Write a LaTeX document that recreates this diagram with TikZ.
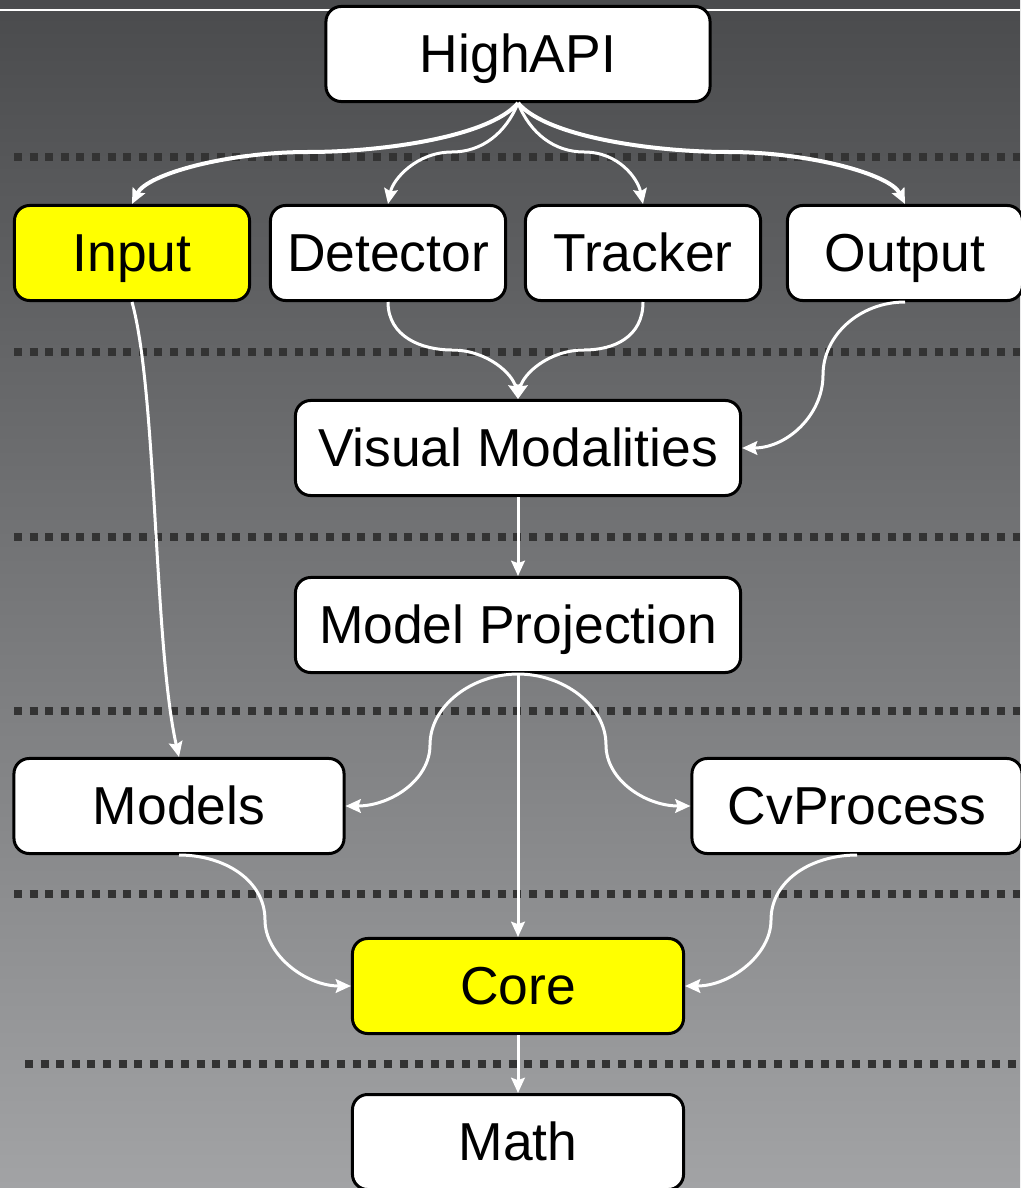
\documentclass[tikz,border=0pt]{standalone}
\usepackage{fontspec}
\setmainfont{Liberation Sans}
\definecolor{bgtop}{RGB}{74,75,77}
\definecolor{bgbottom}{RGB}{162,163,165}
\definecolor{mark}{RGB}{255,255,0}
\definecolor{sep}{RGB}{51,51,51}
\usetikzlibrary{
	arrows.meta,
	positioning
}
\tikzset{
  % arrow
	cstflow/.style    ={-{Stealth[length=.38cm,width=.34cm,inset=.06cm]}, white, line width=.075cm},
	cstflowb/.style   ={cstflow, line width=.1cm},
  % line
	cstsep/.style     ={sep, line width=.2cm, dash pattern=on .2cm off .19cm}, %分隔虚线
  % node
	cstbox/.style     ={fill=white,draw=black,text=black,rounded corners=.38cm,line width=.075cm,
	                    inner sep=0pt,minimum height=2.375cm,text height=27pt,text depth=0pt,
	                    font=\fontsize{38}{45}\selectfont},
	cstbox1/.style    ={cstbox,fill=mark}
}

\begin{document}
\begin{tikzpicture}[x=.025cm,y=-.025cm]
	\useasboundingbox (0,0) rectangle (1020,1188);
	\shade[top color=bgtop,bottom color=bgbottom] (0,0) rectangle (1020,1188);
	\draw[white,line width=.065cm] (0,10)--(1020,10);
	\foreach \x/\y in {14/157,14/352,14/537,14/711,14/894,25/1064}
		\draw[cstsep] (\x,\y)--(1020,\y);
	% nodes
	\node[cstbox,minimum width=9.6cm] (hapi) at (518,54) {HighAPI};
	\node[cstbox1,minimum width=5.875cm] (input) at (132,253) {Input};
	\node[cstbox,minimum width=5.875cm] (det) at (388,253) {Detector};
	\node[cstbox,minimum width=5.875cm] (trk) at (643,253) {Tracker};
	\node[cstbox,minimum width=5.875cm] (out) at (905,253) {Output};
	\node[cstbox,minimum width=11.125cm] (vm) at (518,448) {Visual Modalities};
	\node[cstbox,minimum width=11.125cm] (mp) at (518,625) {Model Projection};
	\node[cstbox,minimum width=8.25cm] (mod) at (179,806) {Models};
	\node[cstbox,minimum width=8.25cm] (cvp) at (857,806) {CvProcess};
	\node[cstbox1,minimum width=8.275cm] (core) at (518,986) {Core};
	\node[cstbox,minimum width=8.275cm] (math) at (518,1142) {Math};
	% arrows
	\draw[cstflowb] (hapi.south) .. controls +(-30,35) and +(70,0) .. (308,152)
		.. controls +(-80,0) and +(15,-30) .. (input.north);
	\draw[cstflow] (hapi.south) .. controls +(-12,30) and +(30,0) .. (452,152)
		.. controls +(-35,0) and +(5,-25) .. (det.north);
	\draw[cstflow] (hapi.south) .. controls +(12,30) and +(-30,0) .. (584,152)
		.. controls +(35,0) and +(-5,-25) .. (trk.north);
	\draw[cstflowb] (hapi.south) .. controls +(30,35) and +(-70,0) .. (728,152)
		.. controls +(80,0) and +(-15,-30) .. (out.north);
	\draw[cstflow] (det.south) .. controls +(0,35) and +(-30,0) .. (452,350)
		.. controls +(35,0) and +(-5,-25) .. (vm.north);
	\draw[cstflow] (trk.south) .. controls +(0,35) and +(30,0) .. (584,350)
		.. controls +(-35,0) and +(5,-25) .. (vm.north);
	\draw[cstflow] (out.south) .. controls +(-45,0) and +(0,-40) .. (823,375)
		.. controls +(0,40) and +(45,0) .. (vm.east);
	\draw[cstflow] (input.south) .. controls +(25,90) and +(-25,-110) .. (mod.north);
	\draw[cstflow] (vm) -- (mp);
	\draw[cstflow] (mp.south) .. controls +(-45,0) and +(0,-40) .. (430,745)
		.. controls +(0,35) and +(45,0) .. (mod.east);
	\draw[cstflow] (mp.south) .. controls +(45,0) and +(0,-40) .. (606,745)
		.. controls +(0,35) and +(-45,0) .. (cvp.west);
	\draw[cstflow] (mp.south) -- (core.north);
	\draw[cstflow] (mod.south) .. controls +(45,0) and +(0,-40) .. (265,920)
		.. controls +(0,35) and +(-45,0) .. (core.west);
	\draw[cstflow] (cvp.south) .. controls +(-45,0) and +(0,-40) .. (771,920)
		.. controls +(0,35) and +(45,0) .. (core.east);
	\draw[cstflow] (core) -- (math);
\end{tikzpicture}
\end{document}
